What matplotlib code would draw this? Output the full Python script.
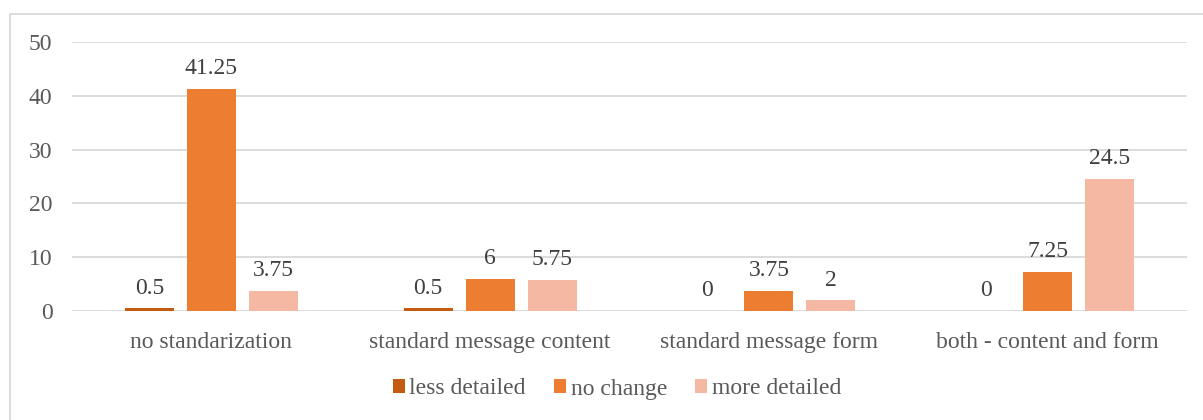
import matplotlib
matplotlib.use("Agg")
import matplotlib.pyplot as plt
import numpy as np
from matplotlib.patches import Rectangle, Patch

categories = ["no standarization", "standard message content", "standard message form", "both - content and form"]
series_names = ["less detailed", "no change", "more detailed"]
less_detailed = [0.5, 0.5, 0, 0]
no_change = [41.25, 6, 3.75, 7.25]
more_detailed = [3.75, 5.75, 2, 24.5]
labels_less = ["0.5", "0.5", "0", "0"]
labels_no = ["41.25", "6", "3.75", "7.25"]
labels_more = ["3.75", "5.75", "2", "24.5"]
yticks = [0, 10, 20, 30, 40, 50]

colors = ["#C55A11", "#ED7D31", "#F4B8A3"]
plt.rcParams['font.family'] = ['Liberation Serif', 'DejaVu Serif']
FS = 17

fig = plt.figure(figsize=(12.03, 4.2), dpi=100)
ax = fig.add_axes([72/1203, 1-311/420, (1187-72)/1203, (311-42)/420])

x = np.arange(len(categories))
w = 49/278.75
off = 62/278.75
series = [less_detailed, no_change, more_detailed]
labs = [labels_less, labels_no, labels_more]
for i, (vals, lb, c) in enumerate(zip(series, labs, colors)):
    pos = x + (i-1)*off
    ax.bar(pos, vals, width=w, color=c, zorder=3)
    for p, v, t in zip(pos, vals, lb):
        ax.annotate(t, (p, v), xytext=(0, 7), textcoords="offset points",
                    ha="center", va="bottom", fontsize=FS, color="#404040")

ax.set_xlim(-0.5, 3.5)
ax.set_ylim(0, 50)
ax.set_yticks(yticks)
ax.set_yticklabels([str(t) for t in yticks], fontsize=FS, color="#595959")
ax.set_xticks(x)
ax.set_xticklabels(categories, fontsize=FS, color="#595959")
ax.tick_params(axis='both', length=0)
ax.tick_params(axis='y', pad=14)
ax.tick_params(axis='x', pad=15)
ax.grid(axis='y', color="#D9D9D9", linewidth=1.3, zorder=0)
for s in ax.spines.values():
    s.set_visible(False)

handles = [Patch(facecolor=c, label=n) for c, n in zip(colors, series_names)]
fig.legend(handles=handles, loc="center", bbox_to_anchor=(617/1203, 1-389/420), ncol=3,
           frameon=False, fontsize=FS, handlelength=0.5, handleheight=0.5,
           handletextpad=0.2, columnspacing=1.2, labelcolor="#595959")

border = Rectangle((10/1203, -0.01), 1.2, 1-13.5/420+0.01, transform=fig.transFigure,
                   fill=False, edgecolor="#D9D9D9", linewidth=1.3)
fig.patches.append(border)

fig.savefig("out.png", dpi=100)
